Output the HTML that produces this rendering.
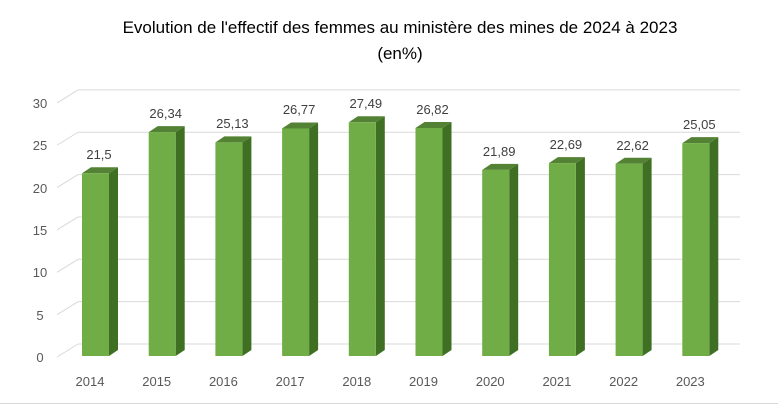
<!DOCTYPE html><html><head><style>body{margin:0;background:#fff}</style></head><body>
<svg width="778" height="406" xmlns="http://www.w3.org/2000/svg" font-family="Liberation Sans, sans-serif">
<rect width="778" height="406" fill="#fff"/>
<line x1="0" y1="403.5" x2="778" y2="403.5" stroke="#d9d9d9" stroke-width="1"/>
<text x="400" y="33" font-size="17" text-anchor="middle" fill="#000">Evolution de l'effectif des femmes au ministère des mines de 2024 à 2023</text>
<text x="400" y="59" font-size="17" text-anchor="middle" fill="#000">(en%)</text>
<g stroke="#d9d9d9" stroke-width="1">
<line x1="57" y1="357" x2="78" y2="344"/><line x1="78" y1="344" x2="740" y2="344"/>
<line x1="57" y1="314.65" x2="78" y2="301.65"/><line x1="78" y1="301.65" x2="740" y2="301.65"/>
<line x1="57" y1="272.3" x2="78" y2="259.3"/><line x1="78" y1="259.3" x2="740" y2="259.3"/>
<line x1="57" y1="229.95" x2="78" y2="216.95"/><line x1="78" y1="216.95" x2="740" y2="216.95"/>
<line x1="57" y1="187.6" x2="78" y2="174.6"/><line x1="78" y1="174.6" x2="740" y2="174.6"/>
<line x1="57" y1="145.25" x2="78" y2="132.25"/><line x1="78" y1="132.25" x2="740" y2="132.25"/>
<line x1="57" y1="102.9" x2="78" y2="89.9"/><line x1="78" y1="89.9" x2="740" y2="89.9"/>
</g>
<g font-size="13" fill="#595959" text-anchor="middle">
<text x="40" y="362">0</text><text x="40" y="320">5</text><text x="40" y="277">10</text><text x="40" y="235">15</text><text x="40" y="193">20</text><text x="40" y="150">25</text><text x="40" y="108">30</text>
</g>
<g font-size="13" text-anchor="middle">
<g transform="translate(82,0)"><polygon points="27,173.25 36,167.25 36,350 27,356" fill="#3f6f22"/><polygon points="0,173.25 9,167.25 36,167.25 27,173.25" fill="#548235"/><rect x="0" y="173.25" width="27" height="182.75" fill="#70ad47"/><text x="17" y="159" fill="#404040">21,5</text><text x="8" y="386" fill="#595959">2014</text></g>
<g transform="translate(148.7,0)"><polygon points="27,132.11 36,126.11 36,350 27,356" fill="#3f6f22"/><polygon points="0,132.11 9,126.11 36,126.11 27,132.11" fill="#548235"/><rect x="0" y="132.11" width="27" height="223.89" fill="#70ad47"/><text x="17" y="118" fill="#404040">26,34</text><text x="8" y="386" fill="#595959">2015</text></g>
<g transform="translate(215.4,0)"><polygon points="27,142.4 36,136.4 36,350 27,356" fill="#3f6f22"/><polygon points="0,142.4 9,136.4 36,136.4 27,142.4" fill="#548235"/><rect x="0" y="142.4" width="27" height="213.6" fill="#70ad47"/><text x="17" y="128" fill="#404040">25,13</text><text x="8" y="386" fill="#595959">2016</text></g>
<g transform="translate(282.1,0)"><polygon points="27,128.45 36,122.45 36,350 27,356" fill="#3f6f22"/><polygon points="0,128.45 9,122.45 36,122.45 27,128.45" fill="#548235"/><rect x="0" y="128.45" width="27" height="227.55" fill="#70ad47"/><text x="17" y="114" fill="#404040">26,77</text><text x="8" y="386" fill="#595959">2017</text></g>
<g transform="translate(348.8,0)"><polygon points="27,122.3 36,116.3 36,350 27,356" fill="#3f6f22"/><polygon points="0,122.3 9,116.3 36,116.3 27,122.3" fill="#548235"/><rect x="0" y="122.3" width="27" height="233.7" fill="#70ad47"/><text x="17" y="108" fill="#404040">27,49</text><text x="8" y="386" fill="#595959">2018</text></g>
<g transform="translate(415.5,0)"><polygon points="27,128 36,122 36,350 27,356" fill="#3f6f22"/><polygon points="0,128 9,122 36,122 27,128" fill="#548235"/><rect x="0" y="128" width="27" height="228" fill="#70ad47"/><text x="17" y="114" fill="#404040">26,82</text><text x="8" y="386" fill="#595959">2019</text></g>
<g transform="translate(482.2,0)"><polygon points="27,169.9 36,163.9 36,350 27,356" fill="#3f6f22"/><polygon points="0,169.9 9,163.9 36,163.9 27,169.9" fill="#548235"/><rect x="0" y="169.9" width="27" height="186.1" fill="#70ad47"/><text x="17" y="156" fill="#404040">21,89</text><text x="8" y="386" fill="#595959">2020</text></g>
<g transform="translate(548.9,0)"><polygon points="27,163.1 36,157.1 36,350 27,356" fill="#3f6f22"/><polygon points="0,163.1 9,157.1 36,157.1 27,163.1" fill="#548235"/><rect x="0" y="163.1" width="27" height="192.9" fill="#70ad47"/><text x="17" y="149" fill="#404040">22,69</text><text x="8" y="386" fill="#595959">2021</text></g>
<g transform="translate(615.6,0)"><polygon points="27,163.7 36,157.7 36,350 27,356" fill="#3f6f22"/><polygon points="0,163.7 9,157.7 36,157.7 27,163.7" fill="#548235"/><rect x="0" y="163.7" width="27" height="192.3" fill="#70ad47"/><text x="17" y="150" fill="#404040">22,62</text><text x="8" y="386" fill="#595959">2022</text></g>
<g transform="translate(682.3,0)"><polygon points="27,143.1 36,137.1 36,350 27,356" fill="#3f6f22"/><polygon points="0,143.1 9,137.1 36,137.1 27,143.1" fill="#548235"/><rect x="0" y="143.1" width="27" height="212.9" fill="#70ad47"/><text x="17" y="129" fill="#404040">25,05</text><text x="8" y="386" fill="#595959">2023</text></g>
</g>
</svg></body></html>
